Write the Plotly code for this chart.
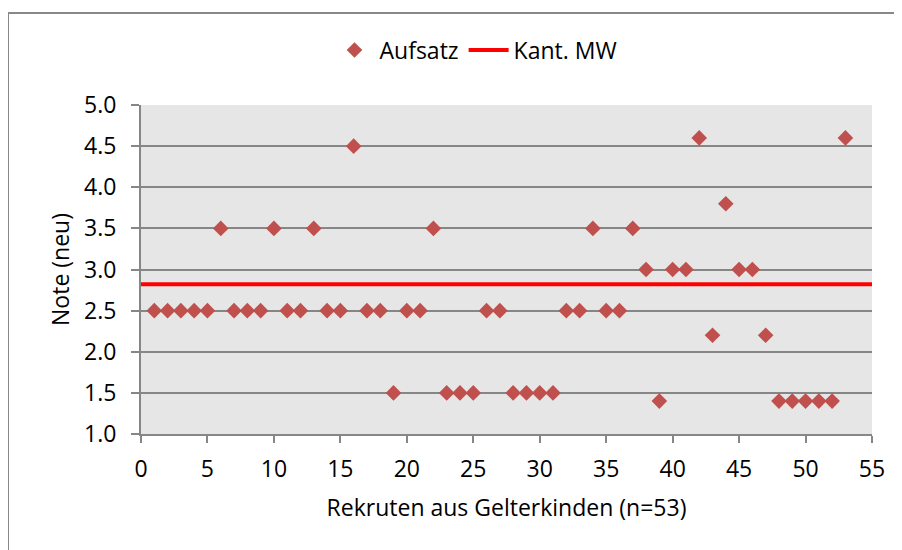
import plotly.graph_objects as go

rekruten = list(range(1, 54))
aufsatz = [2.5, 2.5, 2.5, 2.5, 2.5, 3.5, 2.5, 2.5, 2.5, 3.5,
           2.5, 2.5, 3.5, 2.5, 2.5, 4.5, 2.5, 2.5, 1.5, 2.5,
           2.5, 3.5, 1.5, 1.5, 1.5, 2.5, 2.5, 1.5, 1.5, 1.5,
           1.5, 2.5, 2.5, 3.5, 2.5, 2.5, 3.5, 3.0, 1.4, 3.0,
           3.0, 4.6, 2.2, 3.8, 3.0, 3.0, 2.2, 1.4, 1.4, 1.4,
           1.4, 1.4, 4.6]
kant_x = [0, 55]
kant_mw = [2.82, 2.82]

FONT = "Open Sans"
FS = 23
fig = go.Figure()
fig.add_trace(go.Scatter(x=rekruten, y=aufsatz, mode="markers", name="Aufsatz",
                         marker=dict(symbol="diamond", size=12, color="#c0504d")))
fig.add_trace(go.Scatter(x=kant_x, y=kant_mw, mode="lines", name="Kant. MW",
                         line=dict(color="#ff0000", width=4)))

OFF = 8  # page body margin
W, H = 894, 542
L, T = 141 - OFF, 105 - OFF
R = W - (872 - OFF)
B = H - (434 - OFF)
pw, ph = W - L - R, H - T - B

def px_x(x):
    return (x - OFF - L) / pw

def px_y(y):
    return (H - B - (y - OFF)) / ph

border = dict(color="#888888", width=2)
fig.update_layout(
    width=W, height=H,
    margin=dict(l=L, r=R, t=T, b=B),
    paper_bgcolor="white",
    plot_bgcolor="#e6e6e6",
    font=dict(family=FONT, size=FS, color="#000000"),
    showlegend=True,
    legend=dict(orientation="h", x=px_x(476), xanchor="center",
                y=px_y(50), yanchor="middle", itemwidth=40,
                font=dict(family=FONT, size=FS), bgcolor="rgba(0,0,0,0)"),
    xaxis=dict(range=[0, 55], dtick=5, tick0=0, showgrid=False, zeroline=False,
               showline=True, linecolor="#868686", linewidth=2,
               ticks="outside", ticklen=7, tickcolor="#868686", tickwidth=2,
               ticklabelstandoff=6,
               tickfont=dict(family=FONT, size=FS),
               title=dict(text="Rekruten aus Gelterkinden (n=53)", standoff=17,
                          font=dict(family=FONT, size=FS))),
    yaxis=dict(range=[1.0, 5.0], dtick=0.5, tick0=1.0, tickformat=".1f",
               showgrid=True, gridcolor="#868686", gridwidth=2, zeroline=False,
               showline=True, linecolor="#868686", linewidth=2,
               ticks="outside", ticklen=8, tickcolor="#868686", tickwidth=2,
               ticklabelstandoff=10,
               tickfont=dict(family=FONT, size=FS),
               title=dict(text="Note (neu)", standoff=8,
                          font=dict(family=FONT, size=FS))),
    shapes=[
        dict(type="line", xref="paper", yref="paper",
             x0=px_x(8), x1=px_x(960), y0=px_y(13), y1=px_y(13),
             line=border, layer="below"),
        dict(type="line", xref="paper", yref="paper",
             x0=px_x(8), x1=px_x(8), y0=px_y(13), y1=px_y(600),
             line=border, layer="below"),
    ],
)

fig.write_html("out.html")
